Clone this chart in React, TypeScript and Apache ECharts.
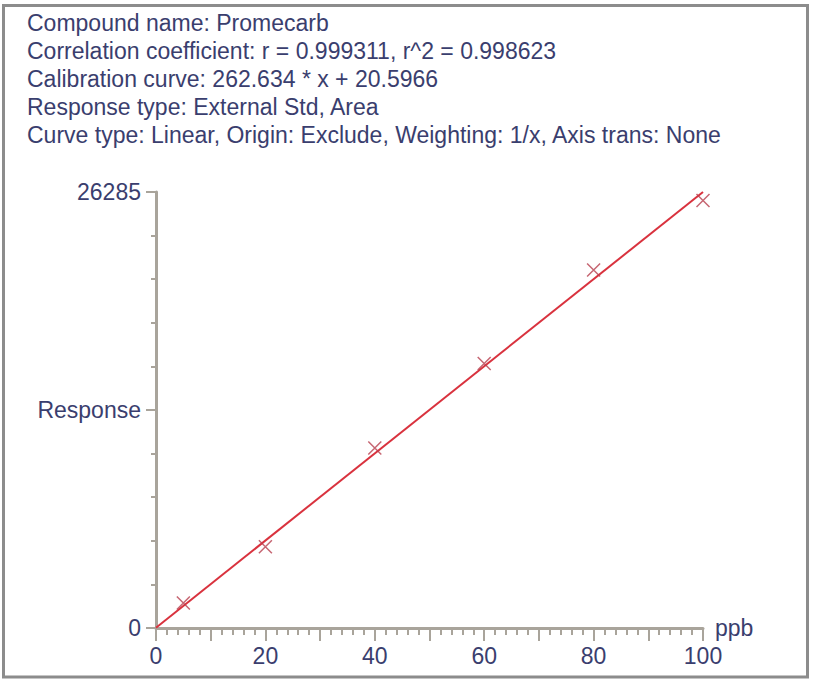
import React, { useEffect, useRef } from "react";
import * as echarts from "echarts";

const headerLines = [
  "Compound name: Promecarb",
  "Correlation coefficient: r = 0.999311, r^2 = 0.998623",
  "Calibration curve: 262.634 * x + 20.5966",
  "Response type: External Std, Area",
  "Curve type: Linear, Origin: Exclude, Weighting: 1/x, Axis trans: None",
];

const concentrations = [5, 20, 40, 60, 80, 100];
const responses = [1510, 4900, 10850, 15950, 21580, 25770];

const fitX = [0, 100];
const fitY = [20.6, 26284.0];

const yMax = 26285;
const yTickLabels = ["0", "Response", "26285"];
const xLabelStep = 20;

const TEXT = "#3a3e6e";
const AXIS = "#a9a49b";
const FONT = "'Liberation Sans', Arial, sans-serif";

export default function App() {
  const ref = useRef<HTMLDivElement>(null);
  useEffect(() => {
    if (!ref.current) return;
    const chart = echarts.init(ref.current, null, { renderer: "svg" });
    const graphics: any[] = [
      {
        type: "rect",
        shape: { x: 3.5, y: 5.5, width: 804, height: 671.5 },
        style: { fill: "none", stroke: "#8c8c8c", lineWidth: 3 },
        silent: true,
      },
      ...headerLines.map((t, i) => ({
        type: "text",
        x: 27,
        y: 23 + i * 28,
        style: {
          text: t,
          fill: TEXT,
          font: `23px ${FONT}`,
          verticalAlign: "middle",
          align: "left",
        },
        silent: true,
      })),
    ];
    chart.setOption({
      animation: false,
      backgroundColor: "#ffffff",
      graphic: graphics,
      grid: { left: 156, top: 192, width: 547, height: 436, containLabel: false },
      xAxis: {
        type: "value",
        min: 0,
        max: 100,
        interval: 10,
        name: "ppb",
        nameLocation: "end",
        nameGap: 12,
        nameTextStyle: { color: TEXT, fontSize: 23, fontFamily: FONT, verticalAlign: "middle", padding: [0, 0, 0, 0] },
        axisLine: { show: true, lineStyle: { color: AXIS, width: 3 } },
        axisTick: { show: true, length: 13, lineStyle: { color: AXIS, width: 2 } },
        minorTick: { show: true, splitNumber: 5, length: 7, lineStyle: { color: AXIS, width: 2 } },
        splitLine: { show: false },
        axisLabel: {
          color: TEXT,
          fontSize: 23,
          fontFamily: FONT,
          margin: 16,
          formatter: (v: number) => (Math.round(v) % xLabelStep === 0 ? String(Math.round(v)) : ""),
        },
      },
      yAxis: {
        type: "value",
        min: 0,
        max: yMax,
        interval: yMax / 2,
        axisLine: { show: true, lineStyle: { color: AXIS, width: 3 } },
        axisTick: { show: true, length: 10, lineStyle: { color: AXIS, width: 2 } },
        minorTick: { show: true, splitNumber: 5, length: 5, lineStyle: { color: AXIS, width: 2 } },
        splitLine: { show: false },
        axisLabel: {
          color: TEXT,
          fontSize: 23,
          fontFamily: FONT,
          margin: 15,
          formatter: (_v: number, idx: number) => yTickLabels[idx] ?? "",
        },
      },
      series: [
        {
          type: "line",
          data: fitX.map((x, i) => [x, fitY[i]]),
          symbol: "none",
          lineStyle: { color: "#d9323e", width: 2 },
          z: 2,
        },
        {
          type: "scatter",
          data: concentrations.map((x, i) => [x, responses[i]]),
          symbol: "path://M0,0L10,10M10,0L0,10",
          symbolSize: 13,
          itemStyle: { color: "none", borderColor: "#b8404f", borderWidth: 1.5 },
          z: 3,
        },
      ],
    });
    return () => chart.dispose();
  }, []);
  return (
    <div
      ref={ref}
      style={{ position: "absolute", left: 0, top: 0, width: 815, height: 685 }}
    />
  );
}
